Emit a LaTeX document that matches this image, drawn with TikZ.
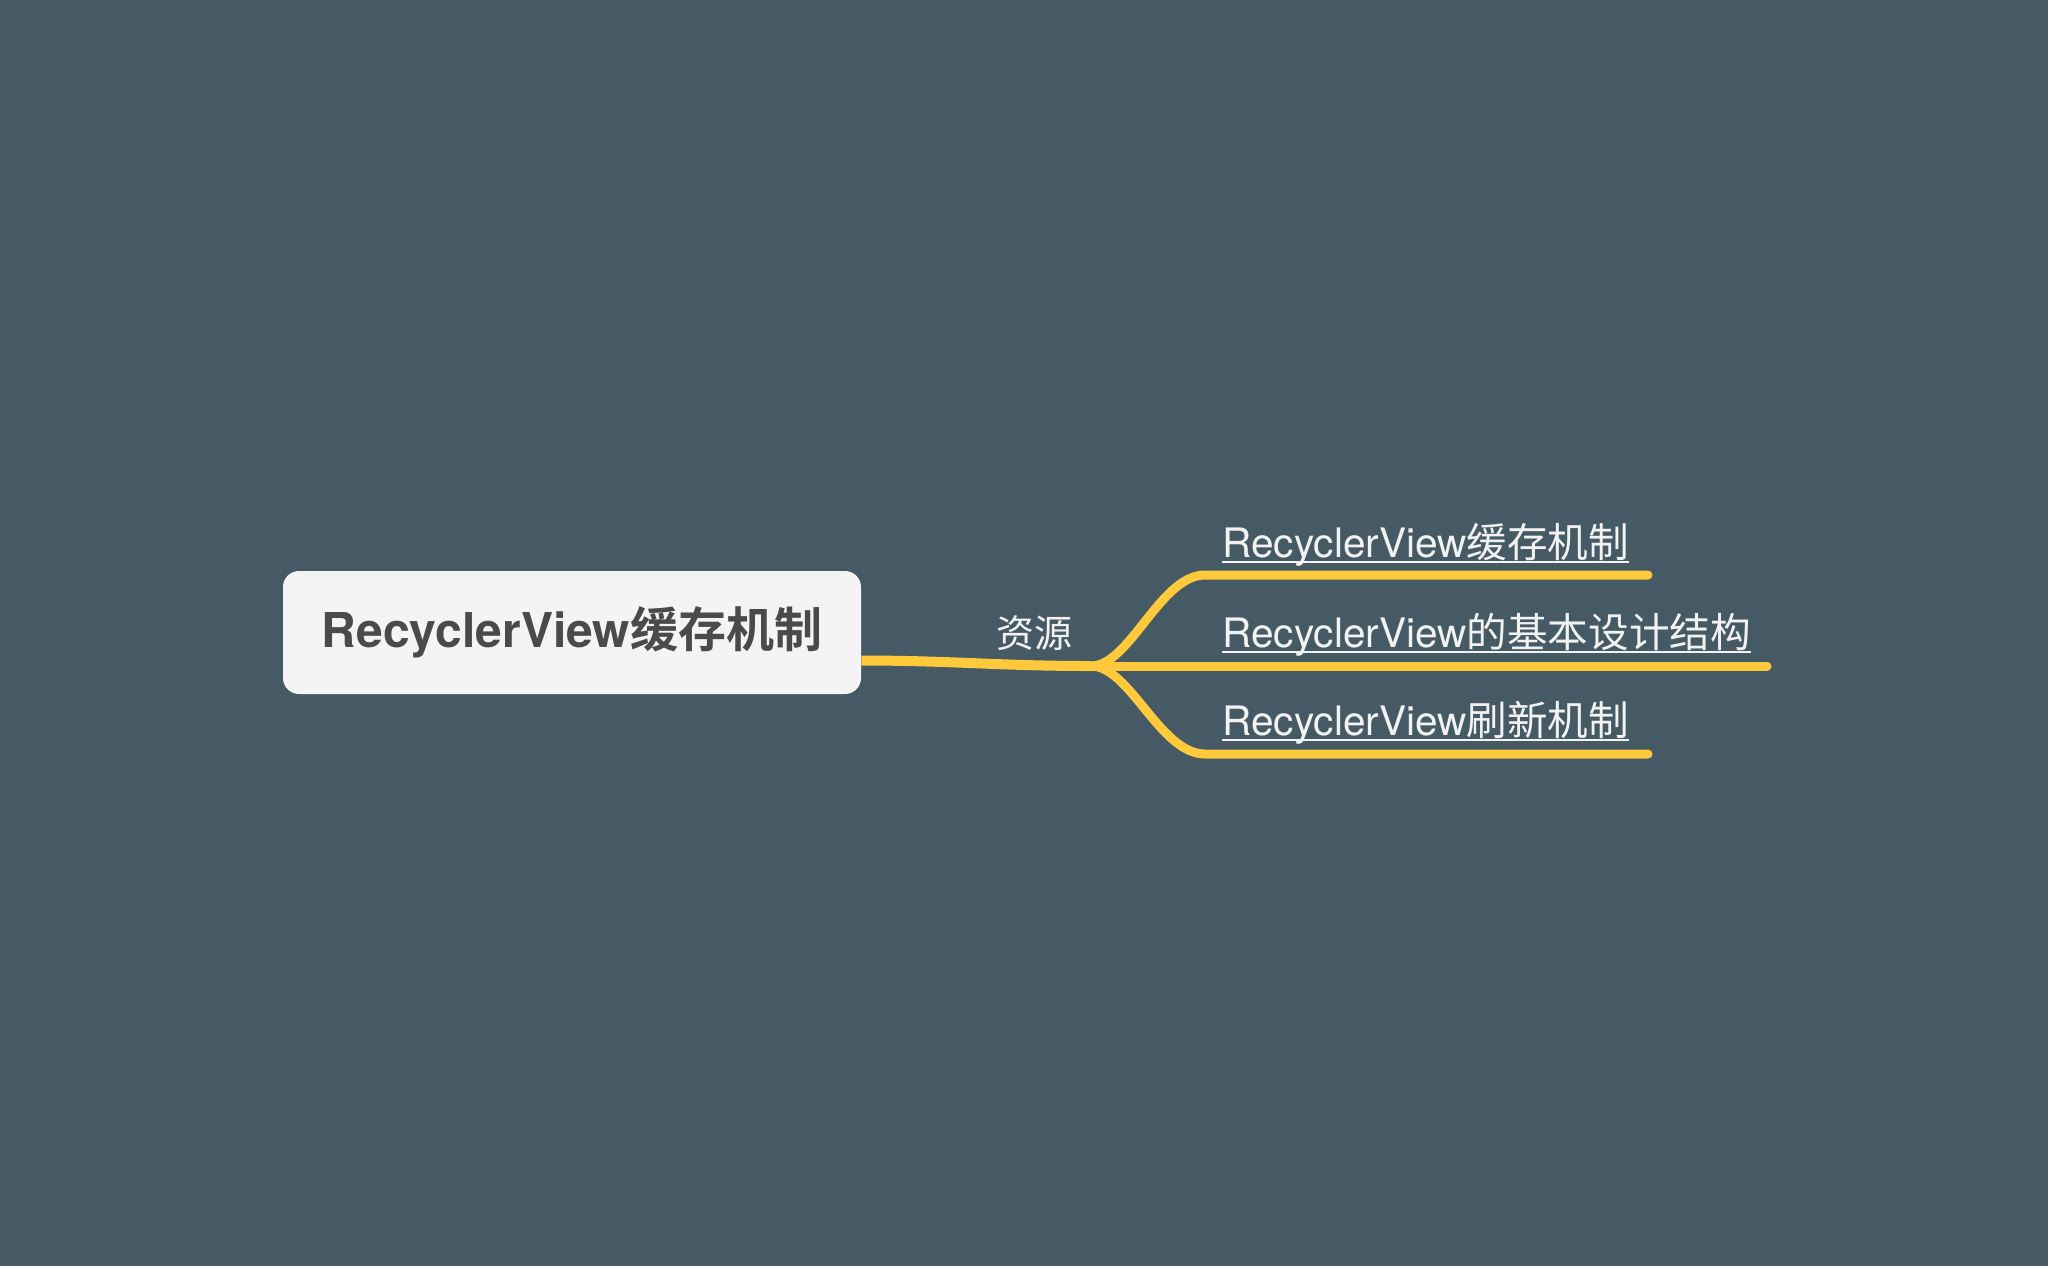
\documentclass[tikz,border=0pt]{standalone}
\usepackage{fontspec}
\setmainfont{TeX Gyre Heros}
\newfontfamily\cjk{Noto Sans CJK SC}[BoldFont={Noto Sans CJK SC Bold}]
\definecolor{mapbg}{HTML}{465A66}
\definecolor{mapyellow}{HTML}{FFC93C}
\definecolor{rootfill}{HTML}{F4F4F4}
\definecolor{roottext}{HTML}{4A4A4A}
\definecolor{topictext}{HTML}{F2F2F2}

\begin{document}
\begin{tikzpicture}[x=0.5pt, y=-0.5pt,
        branch/.style={draw=mapyellow, line width=4.5pt, line cap=round},
        topic/.style={anchor=base west, inner sep=0pt, text=topictext, font=\fontsize{20.3pt}{23pt}\selectfont},
        link/.style={draw=topictext, line width=1pt}]
        \fill[mapbg] (0,0) rectangle (2048,1266);
        \useasboundingbox (0,0) rectangle (2048,1266);
        \node[fill=rootfill, rounded corners=8pt, minimum width=289pt, minimum height=61.5pt, inner sep=0pt,
            text=roottext, font=\fontsize{24pt}{28pt}\selectfont\bfseries] (root) at (572, 632.5) {RecyclerView{\cjk 缓存机制}};
        \coordinate (fork) at (1091, 666);
        \draw[branch, line width=5pt, line cap=butt] ([yshift=-14pt]root.east) to[out=0, in=180] (fork);
        \node[text=topictext, inner sep=0pt, font=\fontsize{19pt}{22pt}\selectfont] (res) at (1034, 633) {\cjk 资源};
        \node[topic] (cache) at (1222, 557) {RecyclerView{\cjk 缓存机制}};
        \node[topic] (design) at (1222, 647) {RecyclerView{\cjk 的基本设计结构}};
        \node[topic] (refresh) at (1222, 735) {RecyclerView{\cjk 刷新机制}};
        \coordinate (cache s) at (1205, 575);
        \coordinate (cache e) at (1648, 575);
        \coordinate (design e) at (1767, 666);
        \coordinate (refresh s) at (1205, 754);
        \coordinate (refresh e) at (1648, 754);
        \draw[branch] (fork) .. controls (1130, 666) and (1160, 575) .. (cache s) -- (cache e);
        \draw[branch] (fork) -- (design e);
        \draw[branch] (fork) .. controls (1130, 666) and (1160, 754) .. (refresh s) -- (refresh e);
        \draw[link] ([yshift=-2.5pt]cache.base west) -- ([yshift=-2.5pt]cache.base east);
        \draw[link] ([yshift=-2.5pt]design.base west) -- ([yshift=-2.5pt]design.base east);
        \draw[link] ([yshift=-2.5pt]refresh.base west) -- ([yshift=-2.5pt]refresh.base east);
    \end{tikzpicture}
\end{document}
